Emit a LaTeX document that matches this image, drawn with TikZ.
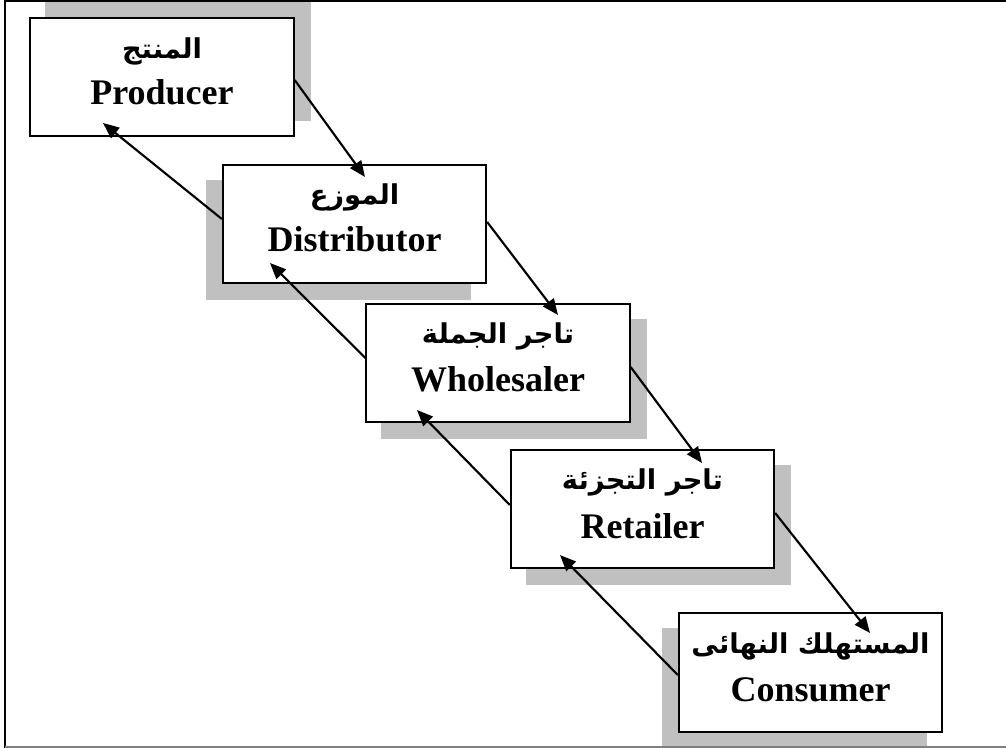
\documentclass[tikz,border=0pt]{standalone}
\usepackage{fontspec}
\setmainfont{Liberation Serif}
\newfontfamily\arabicfont[Script=Arabic]{DejaVu Sans}
\TeXXeTstate=1
\usetikzlibrary{arrows.meta,calc}
\definecolor{shadowgray}{RGB}{192,192,192}

\begin{document}
\begin{tikzpicture}[x=0.75pt,y=-0.75pt,
  stage/.style={draw=black, line width=1.5pt, fill=white,
    minimum width=197.5pt, minimum height=89pt, inner sep=0pt},
  shade/.style={fill=shadowgray, draw=none,
    minimum width=199pt, minimum height=90.5pt, inner sep=0pt},
  artext/.style={anchor=base, inner sep=0pt,
    font=\arabicfont\bfseries\fontsize{20.5}{24}\selectfont},
  entext/.style={anchor=base, inner sep=0pt,
    font=\bfseries\fontsize{27}{32}\selectfont},
  flow/.style={line width=1.6pt, -{Triangle[length=12pt,width=10pt]}}
]
\useasboundingbox (0,0) rectangle (1006,748);
\clip (0,0) rectangle (1006,748);

% drop shadows behind the stages
\node[shade] (prodS) at (178,61)  {};
\node[shade] (distS) at (338.5,240) {};
\node[shade] (wholS) at (514,379) {};
\node[shade] (retS)  at (658.5,525) {};
\node[shade] (consS) at (794.5,688.5) {};

% the five stages of the channel
\node[stage] (prod) at (162,77)    {};
\node[stage] (dist) at (354.5,224) {};
\node[stage] (whol) at (498,363)   {};
\node[stage] (ret)  at (642.5,509) {};
\node[stage] (cons) at (810.5,672.5) {};

% labels: Arabic above, English below
\node[artext] (prodA) at ($(prod)+(0,-18)$) {\beginR المنتج\endR};
\node[entext] (prodE) at ($(prod)+(0,28)$)  {Producer};
\node[artext] (distA) at ($(dist)+(0,-19)$) {\beginR الموزع\endR};
\node[entext] (distE) at ($(dist)+(0,28)$)  {Distributor};
\node[artext] (wholA) at ($(whol)+(0,-19)$) {\beginR تاجر الجملة\endR};
\node[entext] (wholE) at ($(whol)+(0,28)$)  {Wholesaler};
\node[artext] (retA)  at ($(ret)+(0,-20)$)  {\beginR تاجر التجزئة\endR};
\node[entext] (retE)  at ($(ret)+(0,29)$)   {Retailer};
\node[artext] (consA) at ($(cons)+(0,-19)$) {\beginR المستهلك النهائى\endR};
\node[entext] (consE) at ($(cons)+(0,29)$)  {Consumer};

% downstream flow
\draw[flow] ($(prod.east)+(0,3)$)  -- ($(dist)+(10.5,-47)$);
\draw[flow] ($(dist.east)+(0,-2)$) -- ($(whol)+(60,-48)$);
\draw[flow] ($(whol.east)+(0,4)$)  -- ($(ret)+(59.5,-46)$);
\draw[flow] ($(ret.east)+(0,4)$)   -- ($(cons)+(59.5,-39.5)$);

% upstream flow
\draw[flow] ($(dist.west)+(0,-5)$) -- ($(prod)+(-59,46)$);
\draw[flow] ($(whol.west)+(0,-5)$) -- ($(dist)+(-84.5,39)$);
\draw[flow] ($(ret.west)+(0,-4)$)  -- ($(whol)+(-81,47)$);
\draw[flow] ($(cons.west)+(0,2.5)$) -- ($(ret)+(-82.5,46)$);

% outer frame
\draw[line width=1.5pt] (5,748) -- (5,1) -- (1006,1);
\draw[gray, line width=0.8pt] (5,747) -- (1006,747);
\end{tikzpicture}
\end{document}
